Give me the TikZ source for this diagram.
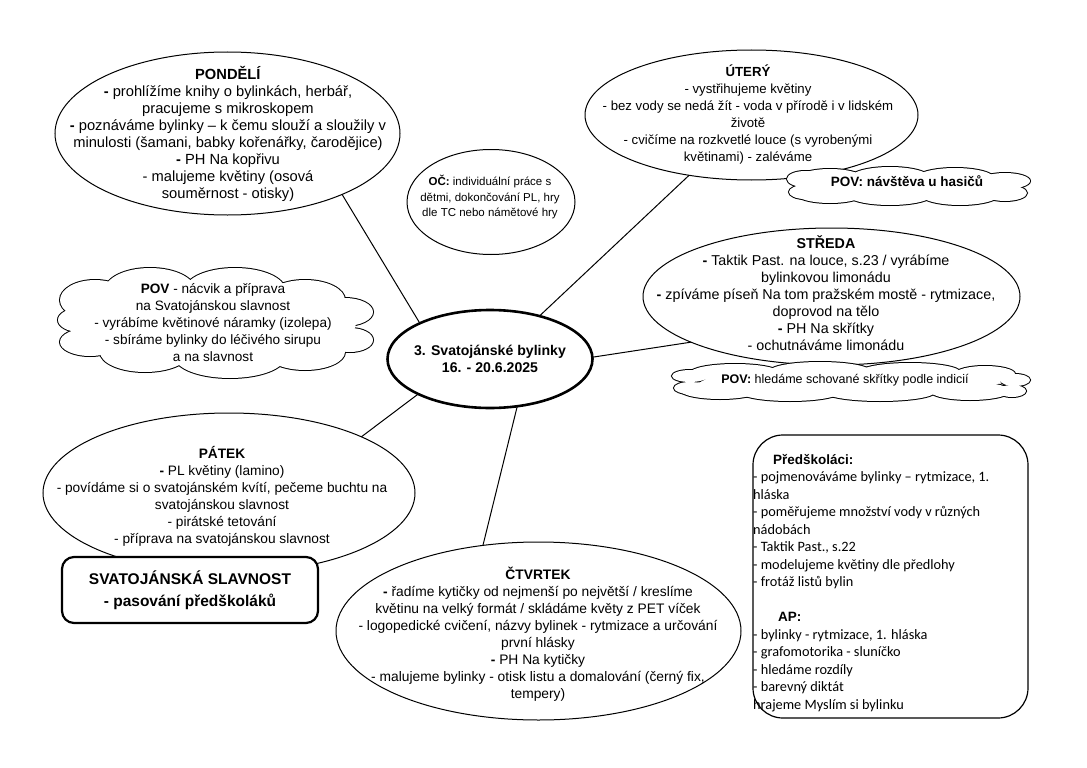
\documentclass[tikz,border=0pt]{standalone}
\usepackage{fontspec}
\setmainfont{Liberation Sans}
\newfontfamily\calibri{Carlito}
\usetikzlibrary{shapes.geometric}

\begin{document}
\begin{tikzpicture}[x=1pt,y=-1pt,
  bubble/.style={draw=black,fill=white,line width=1pt,ellipse,inner sep=0pt,outer sep=0pt},
  txt/.style={align=center,inner sep=0pt,font=\fontsize{13}{17}\selectfont},
  link/.style={draw=black,line width=1pt}]
\useasboundingbox (0,0) rectangle (1087,768);
% the day ellipses:
\node[bubble,minimum width=345pt,minimum height=163pt] (pon) at (227.5,133.5) {};
\node[bubble,minimum width=333pt,minimum height=130pt] (ute) at (751.5,115) {};
\node[bubble,minimum width=168pt,minimum height=105pt] (oc) at (491,202) {};
\node[bubble,minimum width=377pt,minimum height=137pt] (str) at (831.5,296.5) {};
\node[bubble,minimum width=372pt,minimum height=160pt] (pat) at (229,493) {};
\node[bubble,minimum width=405pt,minimum height=178pt] (ctv) at (538.5,631) {};
\node[bubble,line width=2.6pt,minimum width=205pt,minimum height=98pt] (tema) at (490,359) {};
% connectors:
\path[link] (tema.153) -- (pon.-28);
\path[link] (tema.41) -- (ute.-136);
\path[link] (tema.1) -- (str.-162);
\path[link] (tema.-154) -- (pat.23);
\path[link] (tema.-60) -- (ctv.123);
% clouds: outline of the puffs, then the inside
\foreach \cx/\cy/\rx/\ry in {95/300/35/20, 150/290/45/22, 235/290/50/22, 305/300/40/20,
    345/312/28/14, 350/340/23/12, 305/352/40/18, 230/357/55/21, 145/352/45/20,
    90/342/30/14, 80/320/22/12,
    830/180/35/11, 890/178/40/11, 955/179/40/11, 1005/181/25/8, 1005/193/22/8,
    960/194/40/11, 890/195/42/10, 830/193/35/10, 805/179/18/8, 805/192/16/7,
    735/373/45/9, 820/371/50/9, 910/372/50/9, 985/374/30/8, 1015/380/15/6, 1012/391/14/6,
    970/391/40/9, 880/392/55/9, 790/392/50/9, 720/390/40/9, 690/376/18/6, 690/388/16/6}
  \path[draw=black,line width=2pt] (\cx,\cy) ellipse [x radius=\rx, y radius=\ry];
\foreach \cx/\cy/\rx/\ry in {95/300/35/20, 150/290/45/22, 235/290/50/22, 305/300/40/20,
    345/312/28/14, 350/340/23/12, 305/352/40/18, 230/357/55/21, 145/352/45/20,
    90/342/30/14, 80/320/22/12, 216/323/140/38,
    830/180/35/11, 890/178/40/11, 955/179/40/11, 1005/181/25/8, 1005/193/22/8,
    960/194/40/11, 890/195/42/10, 830/193/35/10, 805/179/18/8, 805/192/16/7, 908/186/100/12,
    735/373/45/9, 820/371/50/9, 910/372/50/9, 985/374/30/8, 1015/380/15/6, 1012/391/14/6,
    970/391/40/9, 880/392/55/9, 790/392/50/9, 720/390/40/9, 690/376/18/6, 690/388/16/6, 851/382/150/9}
  \path[fill=white] (\cx,\cy) ellipse [x radius=\rx, y radius=\ry];
% boxes:
\node[draw=black,fill=white,line width=2.2pt,rounded corners=12pt,minimum width=256pt,
  minimum height=66pt,align=center,font=\fontsize{15.5}{22}\selectfont\bfseries] (slav) at (190,590)
  {SVATOJÁNSKÁ SLAVNOST\\- pasování předškoláků};
\node[draw=black,line width=1.2pt,rounded corners=30pt,minimum width=275pt,minimum height=283pt] (pred) at (890.5,576.5) {};
% texts:
\node[txt,font=\fontsize{14.7}{17}\selectfont] (pon-t) at (228,134) {\textbf{PONDĚLÍ}\\
  \textbf{-} prohlížíme knihy o bylinkách, herbář,\\
  pracujeme s mikroskopem\\
  \textbf{-} poznáváme bylinky – k čemu slouží a sloužily v\\
  minulosti (šamani, babky kořenářky, čarodějice)\\
  \textbf{-} PH Na kopřivu\\
  - malujeme květiny (osová\\
  souměrnost - otisky)};
\node[txt,font=\fontsize{13.2}{17}\selectfont] (ute-t) at (748,115) {\textbf{ÚTERÝ}\\
  - vystřihujeme květiny\\
  - bez vody se nedá žít - voda v přírodě i v lidském\\
  životě\\
  - cvičíme na rozkvetlé louce (s vyrobenými\\
  květinami) - zaléváme};
\node[txt,font=\fontsize{13.5}{17}\selectfont] (hasici) at (907,181) {\textbf{POV: návštěva u hasičů}};
\node[txt,font=\fontsize{11.5}{15.5}\selectfont] (oc-t) at (490,197.5) {\textbf{OČ:} individuální práce s\\
  dětmi, dokončování PL, hry\\
  dle TC nebo námětové hry};
\node[txt,font=\fontsize{14.3}{17}\selectfont] (str-t) at (826,293) {\textbf{STŘEDA}\\
  \textbf{-} Taktik Past. na louce, s.23 / vyrábíme\\
  bylinkovou limonádu\\
  \textbf{-} zpíváme píseň Na tom pražském mostě - rytmizace,\\
  doprovod na tělo\\
  \textbf{-} PH Na skřítky\\
  - ochutnáváme limonádu};
\node[txt,font=\fontsize{12.5}{17}\selectfont] (skritci) at (845,380) {\textbf{POV:} hledáme schované skřítky podle indicií};
\node[txt,font=\fontsize{13.6}{17}\selectfont] (nacvik) at (213,323) {\textbf{POV} - nácvik a příprava\\
  na Svatojánskou slavnost\\
  - vyrábíme květinové náramky (izolepa)\\
  - sbíráme bylinky do léčivého sirupu\\
  a na slavnost};
\node[txt,font=\fontsize{14.1}{17}\selectfont\bfseries] (tema-t) at (490,358.5) {3. Svatojánské bylinky\\16. - 20.6.2025};
\node[txt,font=\fontsize{13.7}{17}\selectfont] (pat-t) at (222,496) {\textbf{PÁTEK}\\
  \textbf{-} PL květiny (lamino)\\
  - povídáme si o svatojánském kvítí, pečeme buchtu na\\
  svatojánskou slavnost\\
  - pirátské tetování\\
  - příprava na svatojánskou slavnost};
\node[txt,font=\fontsize{13.8}{17}\selectfont] (ctv-t) at (538,634) {\textbf{ČTVRTEK}\\
  \textbf{-} řadíme kytičky od nejmenší po největší / kreslíme\\
  květinu na velký formát / skládáme květy z PET víček\\
  - logopedické cvičení, názvy bylinek - rytmizace a určování\\
  první hlásky\\
  \textbf{-} PH Na kytičky\\
  - malujeme bylinky - otisk listu a domalování (černý fix,\\
  tempery)};
\node[txt,align=left,anchor=north west,font=\calibri\fontsize{14.3}{17.5}\selectfont] (pred-t) at (753,454)
  {\hspace*{20pt}{\rmfamily\bfseries\fontsize{13.5}{17.5}\selectfont Předškoláci:}\\
  - pojmenováváme bylinky – rytmizace, 1.\\
  hláska\\
  - poměřujeme množství vody v různých\\
  nádobách\\
  - Taktik Past., s.22\\
  - modelujeme květiny dle předlohy\\
  - frotáž listů bylin\\
  \mbox{}\\
  \hspace*{25pt}{\rmfamily\bfseries\fontsize{13.5}{17.5}\selectfont AP:}\\
  - bylinky - rytmizace, 1. hláska\\
  - grafomotorika - sluníčko\\
  - hledáme rozdíly\\
  - barevný diktát\\
  hrajeme Myslím si bylinku};
\end{tikzpicture}
\end{document}
